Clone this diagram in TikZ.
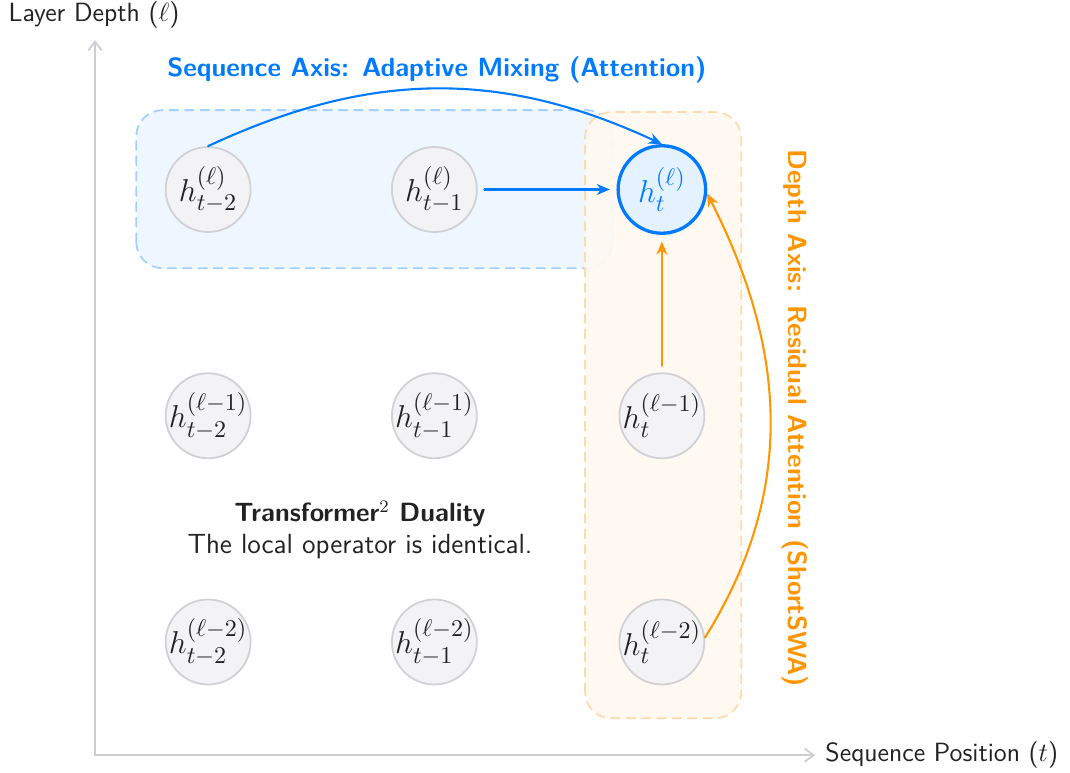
\documentclass[tikz,border=0pt]{standalone}
\usepackage{amsmath}
\usetikzlibrary{arrows.meta}

\definecolor{seqblue}{RGB}{0,122,255}
\definecolor{depthorange}{RGB}{255,149,0}
\definecolor{seqfill}{RGB}{238,246,255}
\definecolor{seqedge}{RGB}{165,207,255}
\definecolor{depthfill}{RGB}{255,249,240}
\definecolor{depthedge}{RGB}{255,218,172}
\definecolor{nodefill}{RGB}{243,243,246}
\definecolor{nodeedge}{RGB}{208,208,213}
\definecolor{hlfill}{RGB}{228,241,255}
\definecolor{axisgray}{RGB}{205,205,210}
\definecolor{inkdark}{RGB}{34,34,34}

\begin{document}
\begin{tikzpicture}[x=1cm,y=1cm,line join=round,line cap=round,font=\sffamily,
    stato/.style={circle,draw=nodeedge,fill=nodefill,line width=0.8pt,
                  minimum size=1.36cm,inner sep=-4pt,text=inkdark,
                  font=\fontsize{15.5}{18}\selectfont},
    attivo/.style={stato,draw=seqblue,fill=hlfill,line width=1.5pt,
                   minimum size=1.40cm,text=seqblue},
    asse/.style={draw=axisgray,line width=0.8pt,-{Straight Barb[length=4pt,width=6pt]}},
    freccia/.style={line width=0.95pt,-{Stealth[length=6pt,width=5pt]}},
    zona/.style={rounded corners=0.42cm,dashed,line width=0.8pt,dash pattern=on 4pt off 3pt}]

  \useasboundingbox (0,0) rectangle (17.12,12.352);

  % ======================= zone evidenziate =======================
  \draw[zona,draw=seqedge,fill=seqfill]      (2.18,8.06) rectangle (9.80,10.59);
  \draw[zona,draw=depthedge,fill=depthfill,fill opacity=0.93] (9.36,0.86) rectangle (11.86,10.56);

  % ======================= assi ===================================
  \coordinate (O)    at (1.52, 0.27);
  \coordinate (ysup) at (1.52,11.71);
  \coordinate (xdes) at (13.04,0.27);
  \draw[asse] (O) -- (ysup);
  \draw[asse] (O) -- (xdes);
  \node[anchor=west,text=inkdark,inner sep=0pt,font=\sffamily\large] (ylab) at (0.13,12.11) {Layer Depth ($\ell$)};
  \node[anchor=west,text=inkdark,inner sep=0pt,font=\sffamily\large] (xlab) at (13.20,0.27) {Sequence Position ($t$)};

  % ======================= griglia degli stati =====================
  \node[stato]  (A2) at ( 3.33,9.32) {$h^{(\ell)}_{t-2}$};     % strato l
  \node[stato]  (A1) at ( 6.95,9.32) {$h^{(\ell)}_{t-1}$};
  \node[attivo] (A0) at (10.59,9.32) {$h^{(\ell)}_{t}$};       % stato corrente
  \node[stato]  (B2) at ( 3.33,5.70) {$h^{(\ell-1)}_{t-2}$};   % strato l-1
  \node[stato]  (B1) at ( 6.95,5.70) {$h^{(\ell-1)}_{t-1}$};
  \node[stato]  (B0) at (10.59,5.70) {$h^{(\ell-1)}_{t}$};
  \node[stato]  (C2) at ( 3.33,2.08) {$h^{(\ell-2)}_{t-2}$};   % strato l-2
  \node[stato]  (C1) at ( 6.95,2.08) {$h^{(\ell-2)}_{t-1}$};
  \node[stato]  (C0) at (10.59,2.08) {$h^{(\ell-2)}_{t}$};

  % ======================= asse di sequenza ========================
  \draw[freccia,seqblue] (A2.north) to[out=25,in=155] (A0.north);
  \draw[freccia,seqblue,shorten <=3pt,shorten >=3pt] (A1) -- (A0);
  \node[text=seqblue,font=\sffamily\bfseries\large] (tseq) at (6.99,11.23)
       {Sequence Axis: Adaptive Mixing (Attention)};

  % ======================= asse di profondita ======================
  \draw[freccia,depthorange,shorten <=3pt,shorten >=3pt] (B0) -- (A0);
  \draw[freccia,depthorange] (C0.6) to[out=58,in=-63] (A0.-5);
  \node[text=depthorange,font=\sffamily\bfseries\large,rotate=-90] (tdep) at (12.72,5.66)
       {Depth Axis: Residual Attention (ShortSWA)};

  % ======================= didascalia centrale =====================
  \node[text=inkdark,font=\sffamily\bfseries\large] (dual)  at (5.76,4.13) {Transformer$^2$ Duality};
  \node[text=inkdark,font=\sffamily\fontsize{12.6}{15}\selectfont] (frase) at (5.76,3.60) {The local operator is identical.};

\end{tikzpicture}
\end{document}
